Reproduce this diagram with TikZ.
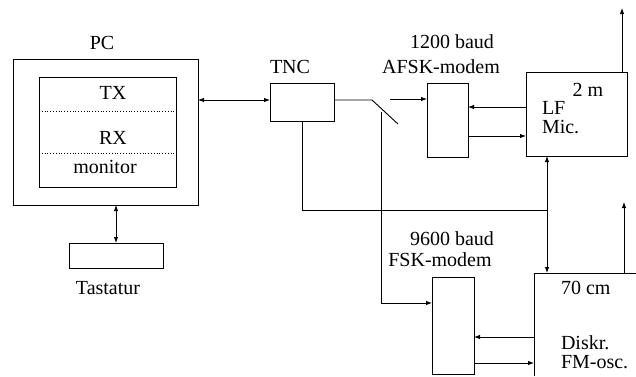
\documentclass[tikz,border=0pt]{standalone}
\usepackage{fontspec}
\setmainfont{Liberation Serif}
\usetikzlibrary{arrows.meta}
\begin{document}
\begin{tikzpicture}[x=1pt,y=-1pt,
  every node/.style={inner sep=0pt,outer sep=0pt},
  box/.style={draw,line width=0.9pt,anchor=north west},
  conn/.style={line width=0.9pt},
  arr/.style={conn,-{Latex[length=6pt,width=4.5pt]}},
  darr/.style={conn,{Latex[length=6pt,width=4.5pt]}-{Latex[length=6pt,width=4.5pt]}},
  lbl/.style={font=\fontsize{20}{22}\selectfont}]
\useasboundingbox (0,0) rectangle (636,376);
% boxes
\node[box,minimum width=185pt,minimum height=146pt] (pc) at (13,59) {};
\node[box,minimum width=137pt,minimum height=110pt] (mon) at (39,77) {};
\node[box,minimum width=64pt,minimum height=38pt] (tnc) at (270,83) {};
\node[box,minimum width=41pt,minimum height=74pt] (afsk) at (427,83) {};
\node[box,minimum width=101pt,minimum height=84pt] (twom) at (526,72) {};
\node[box,minimum width=42pt,minimum height=97pt] (fsk) at (432,277) {};
\node[box,minimum width=94pt,minimum height=25pt] (tast) at (69,243) {};
\coordinate (c70bl) at (534,376);
\coordinate (c70tl) at (534,273);
\coordinate (c70tr) at (636,273);
\draw[conn] (c70bl) -- (c70tl) -- (c70tr);
% dotted lines in monitor
\draw[line width=0.8pt,dotted] (mon.west |- 0,111) -- (mon.east |- 0,111);
\draw[line width=0.8pt,dotted] (mon.west |- 0,153) -- (mon.east |- 0,153);
% labels
\node[lbl] (tpc) at (102,43) {PC};
\node[lbl] (ttx) at (113,93) {TX};
\node[lbl] (trx) at (113,138) {RX};
\node[lbl] (tmon) at (105,167) {monitor};
\node[lbl] (ttnc) at (290,67) {TNC};
\node[lbl] (t1200) at (452,42) {1200 baud};
\node[lbl] (tafsk) at (441,67) {AFSK-modem};
\node[lbl] (t2m) at (588,90) {2 m};
\node[lbl,anchor=west] (tlf) at (542,108) {LF};
\node[lbl,anchor=west] (tmic) at (542,127) {Mic.};
\node[lbl] (t9600) at (452,239) {9600 baud};
\node[lbl] (tfsk) at (440,260) {FSK-modem};
\node[lbl,anchor=west] (t70) at (561,288) {70 cm};
\node[lbl,anchor=west] (tdis) at (561,343) {Diskr.};
\node[lbl,anchor=west] (tfm) at (561,362) {FM-osc.};
\node[lbl] (ttast) at (108,288) {Tastatur};
% connectors
\draw[darr] (pc.east |- 0,100) -- (tnc.west |- 0,100);
\coordinate (sw1) at (372,100);
\coordinate (sw2) at (398,124);
\draw[conn] (tnc.east |- 0,100) -- (sw1) -- (sw2);
\coordinate (sw3) at (381,112);
\coordinate (sw4) at (381,303);
\draw[arr] (sw3) -- (sw4) -- (fsk.west |- sw4);
\coordinate (a1) at (390,99);
\draw[arr] (a1) -- (afsk.west |- a1);
\coordinate (j1) at (302,210);
\coordinate (j2) at (547,210);
\draw[conn] (tnc.south) -- (j1) -- (j2);
\draw[darr] (twom.south -| j2) -- (c70tl -| j2);
\coordinate (ant1) at (622,8);
\draw[arr] (twom.north -| ant1) -- (ant1);
\coordinate (ant2) at (624,202);
\draw[arr] (c70tr -| ant2) -- (ant2);
\draw[arr] (twom.west |- 0,107) -- (afsk.east |- 0,107);
\draw[arr] (afsk.east |- 0,136) -- (twom.west |- 0,136);
\draw[arr] (c70tl |- 0,337) -- (fsk.east |- 0,337);
\draw[arr] (fsk.east |- 0,363) -- (c70tl |- 0,363);
\draw[darr] (pc.south -| 116,0) -- (tast.north -| 116,0);
\end{tikzpicture}
\end{document}
